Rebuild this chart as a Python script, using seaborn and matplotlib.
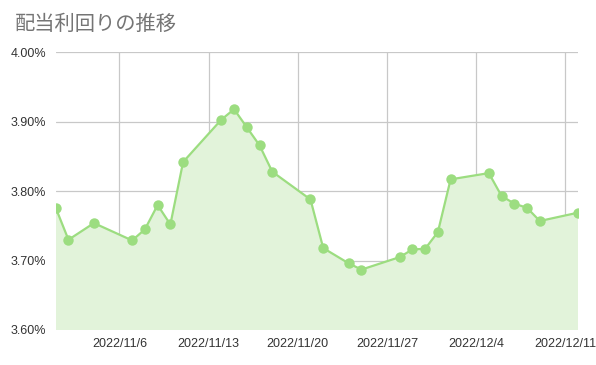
import matplotlib
matplotlib.use("Agg")
import matplotlib.pyplot as plt
import matplotlib.dates as mdates
import matplotlib.ticker as mticker
import seaborn as sns
import pandas as pd

dates = ["2022-11-01", "2022-11-02", "2022-11-04", "2022-11-07", "2022-11-08",
         "2022-11-09", "2022-11-10", "2022-11-11", "2022-11-14", "2022-11-15",
         "2022-11-16", "2022-11-17", "2022-11-18", "2022-11-21", "2022-11-22",
         "2022-11-24", "2022-11-25", "2022-11-28", "2022-11-29", "2022-11-30",
         "2022-12-01", "2022-12-02", "2022-12-05", "2022-12-06", "2022-12-07",
         "2022-12-08", "2022-12-09", "2022-12-12"]
yields = [3.776, 3.730, 3.754, 3.729, 3.745,
          3.780, 3.752, 3.842, 3.903, 3.918,
          3.892, 3.866, 3.828, 3.788, 3.718,
          3.696, 3.687, 3.705, 3.716, 3.717,
          3.741, 3.817, 3.826, 3.793, 3.782,
          3.776, 3.757, 3.769]
tick_dates = ["2022-11-06", "2022-11-13", "2022-11-20", "2022-11-27", "2022-12-04", "2022-12-11"]
y_ticks = [3.60, 3.70, 3.80, 3.90, 4.00]
title = "配当利回りの推移"

df = pd.DataFrame({"date": pd.to_datetime(dates), "yield": yields})

sns.set_theme(style="white")
plt.rcParams["font.family"] = ["Liberation Sans", "Noto Sans CJK JP", "DejaVu Sans"]

fig = plt.figure(figsize=(5.96, 3.65), dpi=100)
ax = fig.add_axes([0.0935, 0.0959, 0.9698 - 0.0935, 0.8567 - 0.0959])

line_color = "#9CDD80"
fill_color = "#E2F3DA"

ax.fill_between(df["date"], df["yield"], 3.0, color=fill_color, linewidth=0, zorder=1)
sns.lineplot(data=df, x="date", y="yield", ax=ax, color=line_color, linewidth=1.6,
             marker="o", markersize=7.5, markeredgewidth=0, markerfacecolor=line_color,
             zorder=3)

ax.set_xlim(pd.Timestamp(dates[0]), pd.Timestamp(dates[-1]))
ax.set_ylim(y_ticks[0], y_ticks[-1])

ax.set_yticks(y_ticks)
ax.yaxis.set_major_formatter(mticker.FuncFormatter(lambda v, p: f"{v:.2f}%"))
tick_ts = pd.to_datetime(tick_dates)
ax.set_xticks([mdates.date2num(t) for t in tick_ts])
ax.set_xticklabels([f"{t.year}/{t.month}/{t.day}" for t in tick_ts])

ax.grid(True, color="#C8C8C8", linewidth=0.9, zorder=0)
ax.set_axisbelow(True)
for s in ax.spines.values():
    s.set_visible(False)
ax.tick_params(axis="y", length=5, color="#C8C8C8", width=0.9, pad=2, labelsize=9, labelcolor="#333333")
ax.tick_params(axis="x", length=0, pad=6, labelsize=9, labelcolor="#333333")
ax.set_xlabel("")
ax.set_ylabel("")

fig.text(0.025, 0.933, title, fontsize=14.6, color="#757575", ha="left", va="center",
         family=["Noto Sans CJK JP", "DejaVu Sans"])

fig.savefig("out.png", dpi=100)
